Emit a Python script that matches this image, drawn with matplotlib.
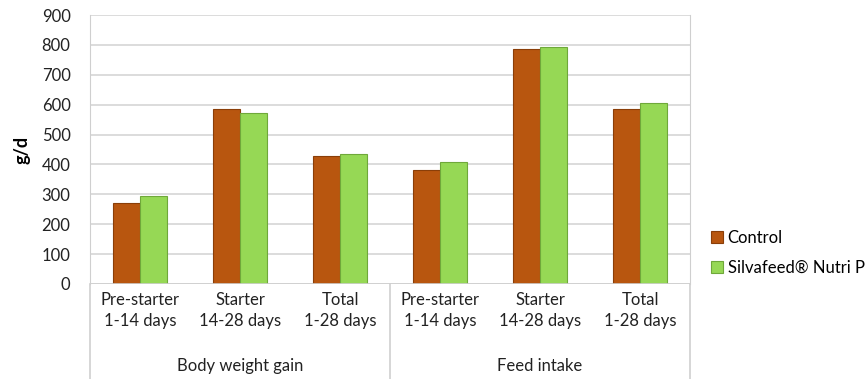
import numpy as np
import matplotlib
matplotlib.use("Agg")
import matplotlib.pyplot as plt
from matplotlib.lines import Line2D

plt.rcParams['font.family'] = ['Lato', 'DejaVu Sans']

categories = ["Pre-starter\n1-14 days", "Starter\n14-28 days", "Total\n1-28 days",
              "Pre-starter\n1-14 days", "Starter\n14-28 days", "Total\n1-28 days"]
groups = ["Body weight gain", "Feed intake"]
control = [272, 586, 428, 381, 785, 584]
silvafeed = [296, 573, 435, 409, 792, 604]
series_names = ["Control", "Silvafeed® Nutri P"]

fig = plt.figure(figsize=(8.65, 3.79), dpi=100)
ax = fig.add_axes([90/865, 95/379, 600/865, 269/379])

x = np.arange(len(categories))
w = 0.27
ax.bar(x - w/2, control, w, color="#B8560F", edgecolor="#8A3E08", linewidth=0.8,
       label=series_names[0], zorder=3)
ax.bar(x + w/2, silvafeed, w, color="#96D855", edgecolor="#6FA83A", linewidth=0.8,
       label=series_names[1], zorder=3)

ax.set_xlim(-0.5, len(categories) - 0.5)
ax.set_ylim(0, 900)
ax.set_yticks(np.arange(0, 901, 100))
ax.tick_params(axis="y", length=0, labelsize=12, pad=14, colors="#222222")
ax.set_xticks(x)
ax.set_xticklabels(categories, fontsize=12, linespacing=1.35, color="#222222")
ax.tick_params(axis="x", length=0, pad=6)
ax.grid(axis="y", color="#D9D9D9", linewidth=1.3, zorder=0)
for s in ["top", "bottom"]:
    ax.spines[s].set_visible(False)
for s in ["left", "right"]:
    ax.spines[s].set_color("#CFCFCF")
ax.axhline(0, color="#CFCFCF", linewidth=1.2, zorder=4)

ax.set_ylabel("g/d", fontsize=13, fontweight="bold", labelpad=8)

# group labels and separators
for i, g in enumerate(groups):
    ax.text(1 + 3*i, -0.305 * 900, g, ha="center", va="center", fontsize=12,
            color="#222222", clip_on=False)
for xs in [-0.5, 2.5, 5.5]:
    ax.add_line(Line2D([xs, xs], [0, -0.36 * 900], color="#CFCFCF", linewidth=1.2,
                       clip_on=False))

ax.legend(loc="center left", bbox_to_anchor=(1.01, 0.115), frameon=False, fontsize=12,
          handlelength=0.7, handleheight=0.7, handletextpad=0.3, labelspacing=0.85)

fig.savefig("out.png", dpi=100)
